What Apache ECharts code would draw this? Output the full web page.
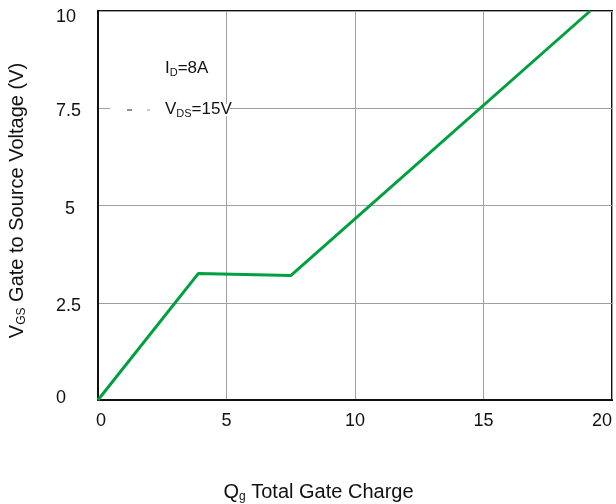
<!DOCTYPE html>
<html>
<head>
<meta charset="utf-8">
<script src="https://cdn.jsdelivr.net/npm/echarts@6/dist/echarts.min.js"></script>
<style>
  html, body { margin: 0; padding: 0; background: #fff; }
  #chart { width: 616px; height: 504px; }
</style>
</head>
<body>
<div id="chart"></div>
<script>
// Gate charge curve: gate-source voltage vs total gate charge
const gateCharge = [0, 3.9, 7.5, 19.15];   // Qg (nC)
const gateVoltage = [0, 3.25, 3.2, 10];    // VGS (V)
const xTicks = [0, 5, 10, 15, 20];
const yTicks = [0, 2.5, 5, 7.5, 10];

const FONT = '"Liberation Sans", Arial, sans-serif';
const INK = '#111';
const chart = echarts.init(document.getElementById('chart'), null, { renderer: 'canvas' });

const points = gateCharge.map((q, i) => [q, gateVoltage[i]]);

// label styles for the voltage axis (small per-label nudges)
const yRich = {
  top: { fontFamily: FONT, fontSize: 18, color: INK, padding: [13, 0, 0, 0] },
  mid: { fontFamily: FONT, fontSize: 18, color: INK, padding: [6, 0, 0, 0] },
  five: { fontFamily: FONT, fontSize: 18, color: INK, padding: [7, 0, 0, 9] },
  base: { fontFamily: FONT, fontSize: 18, color: INK, padding: [0, 0, 4, 0] }
};

const titleRich = {
  v: { fontFamily: FONT, fontSize: 20, color: INK, lineHeight: 22, verticalAlign: 'middle' },
  s: { fontFamily: FONT, fontSize: 12, color: INK, lineHeight: 22, verticalAlign: 'bottom' }
};

const noteRich = {
  v: { fontFamily: FONT, fontSize: 17, fill: INK, lineHeight: 20, verticalAlign: 'middle' },
  s: { fontFamily: FONT, fontSize: 11, fill: INK, lineHeight: 20, verticalAlign: 'bottom' }
};

chart.setOption({
  animation: false,
  backgroundColor: '#ffffff',
  grid: { left: 98, right: 4, top: 11, bottom: 104, containLabel: false,
          outerBoundsMode: 'none',
          show: true, borderColor: INK, borderWidth: 2 },
  xAxis: {
    type: 'value', min: xTicks[0], max: xTicks[xTicks.length - 1], interval: 5,
    name: '{v|Q}{s|g}{v| Total Gate Charge}',
    nameLocation: 'middle', nameGap: 81,
    nameTextStyle: { padding: [0, 73, 0, 0], rich: titleRich },
    axisLine: { show: true, lineStyle: { color: INK, width: 2 } },
    axisTick: { show: false },
    axisLabel: { fontFamily: FONT, fontSize: 18, color: INK, margin: 12,
                 alignMaxLabel: 'right',
                 formatter: v => (v === 0 ? '{z|0}' : String(v)),
                 rich: { z: { fontFamily: FONT, fontSize: 18, color: INK, padding: [0, 0, 0, 6] } } },
    splitLine: { show: true, lineStyle: { color: '#a0a0a0', width: 1 } }
  },
  yAxis: {
    type: 'value', min: yTicks[0], max: yTicks[yTicks.length - 1], interval: 2.5,
    name: '{v|V}{s|GS}{v| Gate to Source Voltage (V)}',
    nameLocation: 'middle', nameGap: 70, nameRotate: 90,
    nameTextStyle: { padding: [0, 0, 0, 10], rich: titleRich },
    axisLine: { show: true, lineStyle: { color: INK, width: 2 } },
    axisTick: { show: false },
    axisLabel: {
      align: 'left', margin: 42,
      formatter: v => {
        if (v === 10) return '{top|10}';
        if (v === 5) return '{five|5}';
        if (v === 0) return '{base|0}';
        return '{mid|' + v + '}';
      },
      rich: yRich
    },
    splitLine: { show: true, lineStyle: { color: '#a0a0a0', width: 1 } }
  },
  series: [{
    type: 'line',
    data: points,
    showSymbol: false,
    lineStyle: { color: '#00a040', width: 3 },
    z: 5
  }],
  graphic: [
    {
      type: 'rect', left: 110, top: 104, z: 10,
      shape: { width: 120, height: 12 },
      style: { fill: '#fff' }
    },
    {
      type: 'line', z: 11,
      shape: { x1: 127, y1: 110, x2: 132, y2: 110 },
      style: { stroke: '#222', lineWidth: 1 }
    },
    {
      type: 'line', z: 11,
      shape: { x1: 147, y1: 110, x2: 150, y2: 110 },
      style: { stroke: '#999', lineWidth: 1 }
    },
    {
      type: 'text', left: 165, top: 60, z: 11,
      style: { text: '{v|I}{s|D}{v|=8A}', rich: noteRich }
    },
    {
      type: 'text', left: 165, top: 101, z: 11,
      style: { text: '{v|V}{s|DS}{v|=15V}', rich: noteRich }
    }
  ]
});
</script>
</body>
</html>
